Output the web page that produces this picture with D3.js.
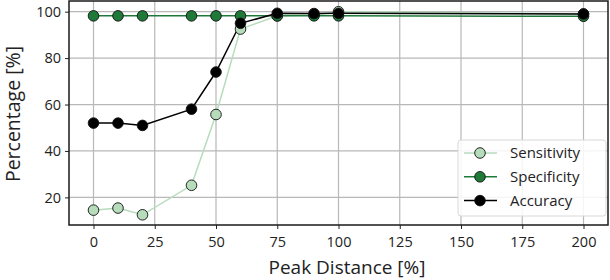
<!DOCTYPE html>
<html>
<head>
<meta charset="utf-8">
<script src="https://cdn.jsdelivr.net/npm/d3@7"></script>
<style>
  body { margin: 0; background: #fff; }
  text { font-family: "Open Sans", sans-serif; fill: #222; }
</style>
</head>
<body>
<div id="chart"></div>
<script>
// values
const peakDistance = [0, 10, 20, 40, 50, 60, 75, 90, 100, 200];
const sensitivity = [14.5, 15.4, 12.5, 25.2, 55.7, 92.5, 98.2, 98.6, 100, 99];
const specificity = [98.2, 98.2, 98.2, 98.2, 98.2, 98.2, 98.2, 98.2, 98.2, 98];
const accuracy = [52, 52, 51, 58, 74, 95, 99.3, 99.2, 99.3, 99];
const xTicks = [0, 25, 50, 75, 100, 125, 150, 175, 200];
const yTicks = [20, 40, 60, 80, 100];

const series = [
    { name: "Sensitivity", values: sensitivity, color: "#b6dcbc" },
    { name: "Specificity", values: specificity, color: "#1f7a3a" },
    { name: "Accuracy", values: accuracy, color: "#000000" }
];

const width = 610, height = 280;
const margin = { top: 1, right: 2, bottom: 55, left: 69 };

const svg = d3.select("#chart").append("svg")
    .attr("width", width)
    .attr("height", height);

const x = d3.scaleLinear()
    .domain([-10, 210])
    .range([margin.left, width - margin.right]);

const y = d3.scaleLinear()
    .domain([8.1, 104.6])
    .range([height - margin.bottom, margin.top]);

// grid
svg.append("g")
    .selectAll("line.gx")
    .data(xTicks)
    .enter().append("line")
    .attr("x1", d => x(d)).attr("x2", d => x(d))
    .attr("y1", y.range()[1]).attr("y2", y.range()[0])
    .attr("stroke", "#b8b8b8").attr("stroke-width", 1.2);

svg.append("g")
    .selectAll("line.gy")
    .data(yTicks)
    .enter().append("line")
    .attr("x1", x.range()[0]).attr("x2", x.range()[1])
    .attr("y1", d => y(d)).attr("y2", d => y(d))
    .attr("stroke", "#b8b8b8").attr("stroke-width", 1.2);

// axes
const xAxis = svg.append("g")
    .attr("transform", `translate(0, ${height - margin.bottom})`)
    .call(d3.axisBottom(x).tickValues(xTicks).tickSize(4).tickPadding(8));

const yAxis = svg.append("g")
    .attr("transform", `translate(${margin.left}, 0)`)
    .call(d3.axisLeft(y).tickValues(yTicks).tickSize(4).tickPadding(4));

[xAxis, yAxis].forEach(g => {
    g.select(".domain").remove();
    g.selectAll(".tick text").style("font-size", "14.5px").attr("fill", "#222");
    g.selectAll(".tick line").attr("stroke", "#222");
});

// frame
svg.append("rect")
    .attr("x", x.range()[0]).attr("y", y.range()[1])
    .attr("width", x.range()[1] - x.range()[0])
    .attr("height", y.range()[0] - y.range()[1])
    .attr("fill", "none").attr("stroke", "#1a1a1a").attr("stroke-width", 1.5);

// lines and markers
const line = d3.line()
    .x((d, i) => x(peakDistance[i]))
    .y(d => y(d));

series.forEach(s => {
    svg.append("path")
        .datum(s.values)
        .attr("d", line)
        .attr("fill", "none")
        .attr("stroke", s.color)
        .attr("stroke-width", 1.5);
});

series.forEach(s => {
    svg.append("g")
        .selectAll("circle")
        .data(s.values)
        .enter().append("circle")
        .attr("cx", (d, i) => x(peakDistance[i]))
        .attr("cy", d => y(d))
        .attr("r", 5.3)
        .attr("fill", s.color)
        .attr("stroke", "#111")
        .attr("stroke-width", 0.9);
});

// legend
const legend = svg.append("g").attr("transform", "translate(458, 140)");
legend.append("rect")
    .attr("width", 148).attr("height", 76).attr("rx", 3)
    .attr("fill", "#fff").attr("fill-opacity", 0.85)
    .attr("stroke", "#d8d8d8");

series.forEach((s, i) => {
    const row = legend.append("g").attr("transform", `translate(0, ${13 + i * 23.8})`);
    row.append("line")
        .attr("x1", 6).attr("x2", 39)
        .attr("stroke", s.color).attr("stroke-width", 1.5);
    row.append("circle")
        .attr("cx", 22).attr("r", 5.3)
        .attr("fill", s.color).attr("stroke", "#111").attr("stroke-width", 0.9);
    row.append("text")
        .attr("x", 52).attr("dy", "0.35em")
        .style("font-size", "15px")
        .text(s.name);
});

// axis labels
svg.append("text")
    .attr("x", 347).attr("y", 274)
    .attr("text-anchor", "middle")
    .style("font-size", "19px")
    .text("Peak Distance [%]");

svg.append("text")
    .attr("transform", `translate(20, 114) rotate(-90)`)
    .attr("text-anchor", "middle")
    .style("font-size", "19.5px")
    .text("Percentage [%]");
</script>
</body>
</html>
